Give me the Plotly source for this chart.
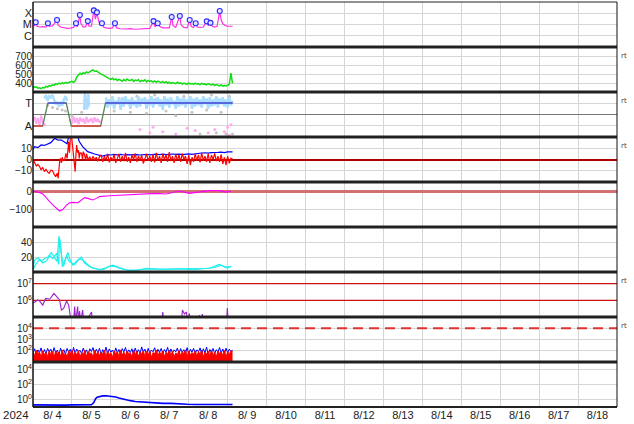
import numpy as np
import pandas as pd
import plotly.graph_objects as go
from plotly.subplots import make_subplots

START = pd.Timestamp("2024-08-04 00:00")
END = pd.Timestamp("2024-08-19 00:00")

# ---------------- Panel 1: X-ray flux (W/m2) ----------------
XRAY_HOURS = [0, 1.0, 1.7, 2.5, 4, 6, 8, 9.2, 10, 12, 14.8, 15.5, 17, 19, 21, 23, 25, 26.5, 27.3,
              28.9, 29.5, 31, 32.5, 33.8, 34.5, 36, 37.5, 38.5, 39.4, 40.5, 41.5, 42.5, 43.5, 45,
              47, 49, 50.5, 51.5, 54, 57, 60, 63, 66, 69, 72, 74.3, 75.3, 76.9, 78, 80, 82, 84,
              85.5, 86.3, 88, 90.5, 91.3, 93, 95, 96.6, 97.5, 99, 100.3, 101.2, 103, 105, 107.1,
              108, 109.4, 110.5, 112, 113.5, 115.1, 116, 117, 118.5, 120, 121.5, 123]
XRAY_FLUX = [7e-6, 8e-6, 1.6e-5, 7e-6, 6e-6, 6.5e-6, 6e-6, 1.3e-5, 7e-6, 7.5e-6, 2.5e-5, 9e-6, 6e-6,
             5e-6, 4.6e-6, 4.8e-6, 5.5e-6, 1.3e-5, 6e-6, 6.9e-5, 1.2e-5, 6e-6, 6.5e-6, 2.0e-5, 7e-6,
             7e-6, 1.8e-4, 3e-5, 1.2e-4, 2e-5, 8e-6, 1.3e-5, 6e-6, 5e-6, 4.5e-6, 5e-6, 1.3e-5, 5e-6,
             4.2e-6, 4e-6, 4.3e-6, 3.8e-6, 4e-6, 4.2e-6, 4.5e-6, 2.0e-5, 6e-6, 1.3e-5, 7e-6, 5e-6,
             4.8e-6, 5e-6, 4.6e-5, 8e-6, 5.5e-6, 5.7e-5, 9e-6, 5.5e-6, 5e-6, 2.5e-5, 7e-6, 5.5e-6,
             1.3e-5, 6e-6, 5.5e-6, 6e-6, 1.9e-5, 8e-6, 1.4e-5, 7e-6, 6e-6, 7e-6, 1.6e-4, 2.5e-5,
             1.2e-5, 8e-6, 7e-6, 6.5e-6, 7e-6]
FLARE_HOURS = [1.7, 9.2, 14.8, 26.5, 28.9, 33.8, 37.5, 39.4, 42.5, 50.5, 74.3, 76.9, 85.5, 90.5,
               96.6, 100.3, 107.1, 109.4, 115.1]
FLARE_FLUX = [1.6e-5, 1.3e-5, 2.5e-5, 1.3e-5, 6.9e-5, 2.0e-5, 1.8e-4, 1.2e-4, 1.3e-5, 1.3e-5,
              2.0e-5, 1.3e-5, 4.6e-5, 5.7e-5, 2.5e-5, 1.3e-5, 1.9e-5, 1.4e-5, 1.6e-4]
XRAY_TICKVALS = [1e-4, 1e-5, 1e-6]
XRAY_TICKTEXT = ["X", "M", "C"]

# ---------------- Panel 2: solar wind speed (hourly) ----------------
SPEED = [365, 352, 358, 343, 347, 338, 350, 345, 362, 355,
         372, 366, 380, 374, 392, 385, 398, 390, 402, 394,
         408, 398, 405, 412, 418, 408, 425, 468, 490, 508,
         495, 515, 505, 522, 512, 530, 538, 545, 528, 535,
         520, 512, 498, 490, 478, 470, 455, 448, 440, 452,
         435, 445, 428, 440, 432, 420, 438, 425, 445, 430,
         428, 440, 418, 432, 425, 438, 415, 430, 420, 435,
         412, 428, 418, 425, 410, 422, 408, 420, 412, 405,
         418, 402, 415, 398, 410, 395, 405, 400, 392, 408,
         395, 402, 388, 398, 392, 385, 400, 390, 395, 385,
         398, 388, 392, 382, 395, 386, 390, 380, 392, 384,
         378, 388, 372, 382, 375, 368, 378, 365, 372, 368,
         375, 385, 510, 395]
SPEED_HOURS = list(range(len(SPEED)))

# ---------------- Panel 3: IMF sector (T / A) ----------------
SECTOR_HOURS = [0, 5.9, 9.2, 20.5, 23.6, 41.7, 44.7, 123]
SECTOR_VALUE = [-1, -1, 1, 1, -1, -1, 1, 1]
LB_EARLY_HOURS = list(range(7, 22))
LB_EARLY = [1.4, 1.7, 1.2, 1.6, 1.5, 1.7, 1.3, 0.9, 1.1, 0.7, 1.0, 0.8, 1.3, 1.6, 1.2]
LB_SPIKE_HOURS = [31.5, 32, 32.5, 33.5, 34, 34.5]
LB_SPIKE = [0.4, 1.9, 0.6, 0.5, 1.8, 0.7]
LB_HOURS = list(range(45, 124))
LB_VALUES = [1.5, 0.6, 1.3, 0.8, 1.6, 0.5, 1.2, 0.9, 1.5, 0.4,
             1.4, 0.7, 1.6, 0.9, 1.3, 0.5, 1.5, 0.8, 1.2, 0.6,
             1.6, 0.7, 1.4, 1.0, 1.5, 0.5, 1.3, 0.8, 1.6, 0.6,
             1.4, 0.9, 1.5, 0.7, 1.3, 0.4, 1.6, 0.8, 1.4, 0.6,
             1.5, 0.9, 1.2, 0.5, 1.6, 0.7, 1.4, 0.8, 1.5, 0.6,
             1.3, 0.9, 1.6, 0.5, 1.4, 0.7, 1.5, 0.8, 1.3, 0.6,
             1.6, 0.9, 1.4, 0.5, 1.5, 0.7, 1.3, 0.8, 1.6, 0.6,
             1.4, 0.9, 1.5, 0.7, 1.3, 0.6, 1.5, 0.8, 1.2]
PINK_A_HOURS = list(range(0, 8))
PINK_A = [-0.5, -0.3, -0.7, -0.4, -0.8, -0.2, -0.6, -0.9]
PINK_B_HOURS = list(range(23, 42))
PINK_B = [-0.5, -0.7, -0.3, -0.6, -0.4, -0.75, -0.35, -0.55, -0.45, -0.7, -0.3, -0.6, -0.5,
          -0.4, -0.65, -0.35, -0.55, -0.45, -0.6]
PINK_DOT_HOURS = [66, 72, 74, 80, 88, 95, 100, 108, 112, 118, 120, 121, 122]
PINK_DOT = [-1.3, -1.6, -1.1, -1.5, -1.7, -1.2, -1.4, -1.6, -1.3, -1.5, -1.1, -1.8, -0.9]
GRAY_HOURS = [9, 12, 15, 18, 20, 24, 30, 50, 55, 60, 64, 70, 75, 82, 88, 93, 98, 103, 107, 110,
              113, 116, 119, 121, 123]
GRAY_VALUES = [0.8, 0.6, 0.5, 0.4, 0.3, -0.1, 0.2, 0.3, 1.4, 0.2, 1.6, 0.1, 1.7, 0.3, -0.1, 1.6,
               0.2, -1.7, 0.4, 1.7, -1.6, 0.2, -1.7, 1.6, -1.7]

# ---------------- Panel 4: IMF Bt / Bz (nT) ----------------
BT_HOURS = [0, 1, 3, 5, 7, 9, 11, 13.4, 15, 17.5, 19.5, 21, 22, 23, 25, 27.5, 28.5, 30.6, 33.7,
            38, 42.9, 45.2, 46, 48, 50, 52, 54, 56, 58, 60, 62, 64, 66, 68, 70, 72, 74, 76, 78,
            80, 82, 84, 86, 88, 90, 92, 94, 96, 98, 100, 102, 104, 106, 108, 110, 112, 114, 116,
            118, 120, 122, 123]
BT = [9, 11.4, 10.5, 12.9, 12.5, 13.5, 15, 18.8, 17.5, 17.3, 15.3, 14, 20.5, 21, 22, 21, 16, 11.4,
      7, 4.9, 3.1, 4, 4.3, 4.0, 4.5, 4.2, 4.6, 4.0, 4.4, 4.1, 4.5, 4.3, 4.0, 4.4, 4.6, 4.2, 4.5,
      4.8, 4.4, 4.7, 4.3, 4.6, 4.9, 4.5, 4.8, 4.4, 4.7, 5.0, 4.6, 5.2, 5.5, 5.8, 6.0, 5.7, 6.1,
      5.9, 6.3, 6.5, 6.2, 6.8, 7.0, 6.8]
BZ_HOURS = [0, 1, 2, 3, 4, 5, 6, 7, 8, 9, 10, 11, 12, 13, 14, 15, 15.5, 16.4, 17, 17.5, 18, 18.5,
            19.5, 20.3, 21, 21.5, 22, 22.5, 23, 23.8, 24.5, 25.2, 26, 26.5, 26.9, 27.5, 28, 28.5,
            29, 30, 30.5, 31, 31.8, 32.5, 33, 34, 35, 36, 37, 38, 39, 40, 41] + list(range(42, 124))
BZ = [0.2, -3.4, -5.8, -4.3, -6, -9.3, -7, -10.8, -8.7, -11, -12.3, -9.5, -10, -13, -15.3, -12,
      -16.7, -2, 1, -3, 2, -1, -0.4, 5.5, 1, 8, 15.8, 6, 19, 20, 8.4, 3, -10.8, 5, 12.9, 6, 8.4,
      1, 6, 5.5, 0, 7, 4, -1, 5, -0.4, 2.5, -1, 3, -0.4, 2, -1.5, 2.5,
      4, -2, 3, -1, 5, -2.5, 2, -1, 4.5, -3, 1, 5, -2, 3, -1.5, 6, -2, 2, -3, 4,
      0, 5.5, -2, 3, -1, 4, -3.5, 2, 5, -1, 3, -2, 4.5, -2.5, 6, -1, 3, -3, 5,
      0, 4, -2, 6.5, -1.5, 3, -3, 5, -1, 4, -2, 5.5, 0, 3, -4, 4, -5, 2, -2,
      5, -1, 4, -2.5, 6, -1, 3, -2, 5, -3, 4, 0, 5.5, -1.5, 3, -2, 4.5, -4, 2,
      -5, 3, -3.5, 1, 0.5]
BZ_TICKVALS = [-10, 0, 10]
BZ_TICKTEXT = ["\u221210", "0", "10"]

# ---------------- Panel 5: Dst (nT) ----------------
DST_HOURS = [0, 4.1, 6.2, 8.2, 10.3, 12.3, 14.4, 16.4, 18.5, 20.6, 22.6, 24.6, 27.7, 29.8, 31.8,
             33.8, 36.9, 39, 41, 47.2, 55.4, 65.6, 75.9, 82.1, 90.3, 96.4, 102.6, 108.7, 114.9,
             119, 122.1]
DST = [0, -9, -18, -41, -59, -78, -96, -111, -102, -78, -65, -63, -65, -50, -37, -41, -50, -41,
       -31, -26, -22, -17, -13, -17, 0, -13, -6, 2, 2, -6, 0]
DST_TICKVALS = [-100, 0]
DST_TICKTEXT = ["\u2212100", "0"]

# ---------------- Panel 6: two cyan series ----------------
CYAN_A_HOURS = [0, 1.0, 3.1, 5.2, 7.2, 9.2, 11.3, 13.3, 14.8, 16.0, 17.0, 18.1, 19.5, 21.5, 22.6,
                24.6, 26.7, 29.8, 31.8, 34.9, 37.9, 41.0, 45.2, 49.2, 53.3, 57.5, 63.6, 69.8, 77.9,
                86.2, 94.4, 102.6, 108.7, 114.9, 118.0, 122.1]
CYAN_A = [5, 16, 19, 14, 18, 20, 26, 20, 14, 48, 36, 7, 14, 26, 18, 9, 14, 20, 12, 7, 5, 3, 6, 9,
          6, 3, 2, 5, 4, 4, 5, 4, 5, 10, 7, 7]
CYAN_B_HOURS = [0, 1.7, 4.1, 6.0, 8.4, 10.3, 12.1, 14.6, 15.8, 16.4, 17.7, 18.9, 20.7, 22.0, 23.8,
                25.7, 28.7, 31.2, 33.7, 36.7, 39.8, 43.5, 47.2, 50.9, 54.6, 59.5, 65.6, 71.8, 81.0,
                90.3, 99.5, 105.7, 111.9, 116.1, 119.8, 122.3]
CYAN_B = [3, 10, 17, 12, 15, 22, 18, 25, 10, 45, 20, 8, 22, 15, 12, 10, 18, 15, 10, 5, 4, 3, 8, 7,
          4, 2, 3, 4, 3, 4, 3, 4, 6, 9, 5, 8]

# ---------------- Panel 7: purple flux ----------------
PURPLE_HOURS = [0, 1.0, 2.9, 4.1, 6.0, 7.8, 10.3, 11.5, 12.9, 14.6, 16.4, 17.5, 18.9, 20.7, 22.0,
                22.9, 23.8, 25.0, 25.7, 26.3, 27.5, 28.1, 28.7, 29.4, 30.6, 31.2, 32.4, 36.1, 36.7,
                79.2, 80.0, 80.8, 91.5, 92.1, 93.4, 94.6, 95.2, 96.4, 97.1, 102.0, 102.6, 103.2,
                104.4, 105.0, 119.2, 119.8, 120.4, 122.3]
PURPLE = [6.6e5, 8e5, 1.05e6, 9e5, 5.2e5, 1.3e6, 1.2e6, 1.66e6, 2.6e6, 1.66e6, 1.05e6, 2.6e5,
          3.3e5, 9.1e5, 5.2e5, 1.3e5, 4e4, 6e4, 4.2e5, 5e4, 4.2e5, 5e4, 2.3e5, 5e4, 2.6e5, 5e4,
          5e4, 2e5, 4e4, 4e4, 2e5, 4e4, 4e4, 2.6e5, 1.5e5, 2e5, 6e4, 1.6e5, 4e4, 4e4, 1.3e5, 5e4,
          1.5e5, 4e4, 4e4, 3.5e5, 4e4, 4e4]
PURPLE_LEVELS = [1e6, 1e7]

# ---------------- Panel 8: red / blue flux (hourly) ----------------
RED8 = [90, 35, 110, 50, 80, 25, 100, 45, 70, 30,
        105, 40, 85, 28, 95, 55, 75, 32, 110, 45,
        60, 30, 95, 50, 120, 35, 80, 40, 100, 26,
        70, 45, 115, 30, 85, 55, 65, 28, 105, 40,
        90, 35, 75, 50, 110, 30, 95, 42, 70, 25,
        100, 48, 85, 30, 120, 40, 80, 35, 95, 55,
        65, 28, 110, 45, 90, 32, 75, 50, 105, 30,
        85, 40, 100, 26, 70, 55, 115, 35, 80, 45,
        95, 30, 75, 50, 110, 38, 90, 28, 65, 45,
        105, 35, 80, 55, 120, 30, 95, 40, 70, 48,
        100, 32, 85, 45, 115, 28, 75, 50, 90, 35,
        110, 42, 70, 30, 95, 55, 80, 38, 105, 26,
        85, 45, 100, 90]
BLUE8 = [60, 150, 45, 120, 70, 180, 40, 130, 55, 160,
         80, 140, 50, 190, 65, 115, 45, 170, 70, 125,
         50, 160, 75, 135, 45, 200, 60, 140, 80, 110,
         55, 175, 65, 120, 40, 150, 85, 190, 50, 135,
         70, 165, 45, 125, 60, 210, 55, 145, 75, 115,
         50, 180, 65, 130, 45, 155, 80, 195, 60, 120,
         70, 150, 40, 175, 65, 125, 55, 220, 75, 140,
         45, 165, 60, 115, 80, 185, 50, 135, 70, 160,
         55, 130, 75, 200, 45, 145, 65, 120, 80, 175,
         50, 155, 70, 125, 60, 190, 45, 140, 75, 165,
         55, 120, 80, 180, 50, 150, 65, 210, 45, 130,
         70, 160, 55, 125, 75, 195, 60, 145, 50, 170,
         65, 140, 80, 120]
FLUX8_HOURS = list(range(len(RED8)))
FLUX8_LEVEL = [1e4]

# ---------------- Panel 9: blue flux ----------------
P9_HOURS = [0, 4, 8, 12, 16, 20, 24, 28, 32, 36, 37.5, 38.5, 39.5, 41, 43, 45, 47, 49, 51, 53, 55,
            57, 60, 63, 66, 70, 75, 80, 85, 90, 95, 100, 105, 110, 115, 120, 123]
P9 = [0.19, 0.18, 0.19, 0.18, 0.19, 0.18, 0.19, 0.18, 0.19, 0.2, 0.4, 1.2, 2.0, 2.6, 3.0, 3.1, 2.9,
      2.8, 2.2, 1.6, 1.2, 0.9, 0.7, 0.55, 0.48, 0.42, 0.35, 0.3, 0.3, 0.25, 0.23, 0.22, 0.21, 0.22,
      0.21, 0.21, 0.22]

LOG_TICKS_8 = [1e2, 1e3, 1e4]
LOG_TICKS_9 = [1e0, 1e2, 1e4]


def t(hours):
    return START + pd.to_timedelta(np.asarray(hours, dtype=float), unit="h")


def sup(v):
    return "10<sup>%d</sup>" % round(np.log10(v))


fig = make_subplots(rows=9, cols=1, shared_xaxes=True, vertical_spacing=0)

# Panel 1
fig.add_trace(go.Scatter(x=t(XRAY_HOURS), y=XRAY_FLUX, mode="lines",
                         line=dict(color="#ff33dd", width=1.2)), row=1, col=1)
fig.add_trace(go.Scatter(x=t(FLARE_HOURS), y=FLARE_FLUX, mode="markers",
                         marker=dict(symbol="circle", size=5, color="#e4e4ff",
                                     line=dict(color="#2a2aff", width=1.1))), row=1, col=1)

# Panel 2
fig.add_trace(go.Scatter(x=t(SPEED_HOURS), y=SPEED, mode="lines",
                         line=dict(color="#11dd11", width=1.5)), row=2, col=1)

# Panel 3
fig.add_trace(go.Scatter(x=t(GRAY_HOURS), y=GRAY_VALUES, mode="markers",
                         marker=dict(color="#c4c4c4", size=3)), row=3, col=1)
for hh, vv in [(PINK_A_HOURS, PINK_A), (PINK_B_HOURS, PINK_B)]:
    fig.add_trace(go.Scatter(x=t(hh), y=vv, mode="lines+markers",
                             line=dict(color="#ffaaee", width=2),
                             marker=dict(color="#ffaaee", size=3)), row=3, col=1)
fig.add_trace(go.Scatter(x=t(PINK_DOT_HOURS), y=PINK_DOT, mode="markers",
                         marker=dict(color="#ffaaee", size=3)), row=3, col=1)
for hh, vv in [(LB_EARLY_HOURS, LB_EARLY), (LB_SPIKE_HOURS, LB_SPIKE), (LB_HOURS, LB_VALUES)]:
    fig.add_trace(go.Scatter(x=t(hh), y=vv, mode="lines",
                             line=dict(color="#aaddff", width=2.5)), row=3, col=1)
sec_h = np.array(SECTOR_HOURS, dtype=float)
sec_v = np.array(SECTOR_VALUE, dtype=float)
fig.add_trace(go.Scatter(x=t(sec_h), y=sec_v, mode="lines",
                         line=dict(color="#558855", width=1.3)), row=3, col=1)
for level, color in [(-1, "#ff3333"), (1, "#5555ff")]:
    yy = [v if (v == level and ((i + 1 < len(sec_v) and sec_v[i + 1] == level) or
                                 (i > 0 and sec_v[i - 1] == level))) else None
          for i, v in enumerate(sec_v)]
    fig.add_trace(go.Scatter(x=t(sec_h), y=yy, mode="lines", connectgaps=False,
                             line=dict(color=color, width=1.3)), row=3, col=1)

# Panel 4
fig.add_trace(go.Scatter(x=t(BT_HOURS), y=BT, mode="lines",
                         line=dict(color="#0000ff", width=1.2)), row=4, col=1)
fig.add_trace(go.Scatter(x=t(BZ_HOURS), y=BZ, mode="lines",
                         line=dict(color="#ff0000", width=1.2)), row=4, col=1)

# Panel 5
fig.add_trace(go.Scatter(x=t(DST_HOURS), y=DST, mode="lines",
                         line=dict(color="#ff00ff", width=1.1)), row=5, col=1)

# Panel 6
fig.add_trace(go.Scatter(x=t(CYAN_B_HOURS), y=CYAN_B, mode="lines",
                         line=dict(color="#22eeee", width=1.2)), row=6, col=1)
fig.add_trace(go.Scatter(x=t(CYAN_A_HOURS), y=CYAN_A, mode="lines",
                         line=dict(color="#22eeee", width=1.2)), row=6, col=1)

# Panel 7
for lv in PURPLE_LEVELS:
    fig.add_trace(go.Scatter(x=[START, END], y=[lv, lv], mode="lines",
                             line=dict(color="#cc1111", width=1.3)), row=7, col=1)
fig.add_trace(go.Scatter(x=t(PURPLE_HOURS), y=PURPLE, mode="lines",
                         line=dict(color="#9a22cc", width=1.1)), row=7, col=1)

# Panel 8
fig.add_trace(go.Scatter(x=[START, END], y=FLUX8_LEVEL * 2, mode="lines",
                         line=dict(color="#dd3333", width=2, dash="10px,6px")), row=8, col=1)
fig.add_trace(go.Scatter(x=t(FLUX8_HOURS), y=BLUE8, mode="lines",
                         line=dict(color="#0000ff", width=1)), row=8, col=1)
fig.add_trace(go.Scatter(x=t(FLUX8_HOURS), y=RED8, mode="lines", fill="tozeroy",
                         fillcolor="#ff0000", line=dict(color="#ff0000", width=1)), row=8, col=1)

# Panel 9
fig.add_trace(go.Scatter(x=t(P9_HOURS), y=P9, mode="lines",
                         line=dict(color="#0000ff", width=1.6)), row=9, col=1)

GRID = "#d6d6d6"
TICKFONT = dict(family="Liberation Sans, Arial, sans-serif", size=10, color="#222")

for r in range(1, 10):
    fig.update_xaxes(row=r, col=1, type="date", range=[START, END], tick0=START,
                     dtick=86400000, showgrid=True, gridcolor=GRID, gridwidth=1,
                     showline=False, zeroline=False, ticks="",
                     showticklabels=(r == 9))
fig.update_xaxes(row=9, col=1, ticklabelmode="period", tickformat="%-m/%e",
                 tickfont=dict(family="Liberation Sans, Arial, sans-serif", size=11, color="#222"))

ycommon = dict(showgrid=True, gridcolor=GRID, gridwidth=1, showline=False, ticks="",
               tickfont=TICKFONT, fixedrange=True)

fig.update_yaxes(row=1, col=1, type="log", range=[-7, -3], tickvals=XRAY_TICKVALS,
                 ticktext=XRAY_TICKTEXT, zeroline=False,
                 **{**ycommon, "tickfont": dict(TICKFONT, size=11)})
fig.update_yaxes(row=2, col=1, range=[300, 800], tickvals=[400, 500, 600, 700],
                 zeroline=False, **ycommon)
fig.update_yaxes(row=3, col=1, range=[-1.96, 1.96], tickvals=[1, -1], ticktext=["T", "A"],
                 zeroline=True, zerolinecolor="#777777", zerolinewidth=1,
                 **{**ycommon, "tickfont": dict(TICKFONT, size=11)})
fig.update_yaxes(row=4, col=1, range=[-20, 20], tickvals=BZ_TICKVALS, ticktext=BZ_TICKTEXT,
                 zeroline=True, zerolinecolor="#aa0000", zerolinewidth=1.5, **ycommon)
fig.update_yaxes(row=5, col=1, range=[-200, 50], tickvals=DST_TICKVALS, ticktext=DST_TICKTEXT,
                 zeroline=True, zerolinecolor="#d07070", zerolinewidth=2.5, **ycommon)
fig.update_yaxes(row=6, col=1, range=[0, 60], tickvals=[20, 40], zeroline=False, **ycommon)
fig.update_yaxes(row=7, col=1, type="log", range=[5, 7.7], tickvals=PURPLE_LEVELS,
                 ticktext=[sup(v) for v in PURPLE_LEVELS], zeroline=False, **ycommon)
fig.update_yaxes(row=8, col=1, type="log", range=[1, 5], tickvals=LOG_TICKS_8,
                 ticktext=[sup(v) for v in LOG_TICKS_8], zeroline=False, **ycommon)
fig.update_yaxes(row=9, col=1, type="log", range=[-1, 5], tickvals=LOG_TICKS_9,
                 ticktext=[sup(v) for v in LOG_TICKS_9], zeroline=False, **ycommon)

# frame and panel separators
shapes = []
for k in range(10):
    w = 3 if 0 < k < 9 else (2 if k == 0 else 1.2)
    shapes.append(dict(type="line", xref="paper", yref="paper", x0=0, x1=1, y0=k / 9, y1=k / 9,
                       line=dict(color="#222222", width=w), layer="above"))
shapes.append(dict(type="line", xref="paper", yref="paper", x0=0, x1=0, y0=0, y1=1,
                   line=dict(color="#111111", width=1.5), layer="above"))
shapes.append(dict(type="line", xref="paper", yref="paper", x0=1, x1=1, y0=0, y1=1,
                   line=dict(color="#111111", width=1), layer="above"))

annotations = [dict(text="2024", xref="paper", yref="paper", x=-0.003, y=-0.0198,
                    xanchor="right", yanchor="middle", showarrow=False,
                    font=dict(family="Liberation Sans, Arial, sans-serif", size=11.5,
                              color="#222"))]
for r in [2, 3, 4, 7, 8]:
    annotations.append(dict(text="rt", xref="paper", yref="y%d domain" % r, x=1.004, y=0.79,
                            xanchor="left", yanchor="middle", showarrow=False,
                            font=dict(family="DejaVu Sans", size=7, color="#444")))

fig.update_layout(width=634, height=424, margin=dict(l=33, r=17, t=2, b=17),
                  paper_bgcolor="white", plot_bgcolor="white", showlegend=False,
                  shapes=shapes, annotations=annotations)

fig.write_html("out.html", config={"displayModeBar": False},
               post_script="document.body.style.margin='0';")
